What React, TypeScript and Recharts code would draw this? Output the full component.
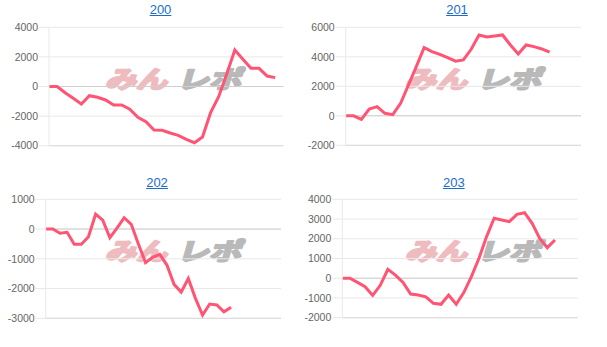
import { LineChart, Line, XAxis, YAxis, CartesianGrid, ReferenceLine } from 'recharts';

// machine numbers shown as panel titles
const titles = ['200', '201', '202', '203'];

// number of day slots on each x axis
const slots = [30, 31, 34, 32];

// cumulative medal difference per day
const diff200 = [0, 0, -420, -800, -1180, -620, -730, -910, -1250, -1250, -1540, -2080, -2380, -2940, -2960, -3140, -3300, -3570, -3800, -3410, -1770, -690, 850, 2470, 1840, 1230, 1230, 710, 600];
const diff201 = [0, 0, -240, 460, 620, 170, 80, 850, 2090, 3330, 4620, 4350, 4170, 3940, 3700, 3790, 4510, 5480, 5350, 5410, 5480, 4800, 4190, 4800, 4690, 4530, 4310];
const diff202 = [0, 0, -140, -110, -510, -510, -260, 500, 300, -290, 30, 380, 160, -500, -1130, -950, -850, -1210, -1860, -2120, -1660, -2330, -2890, -2520, -2550, -2780, -2630];
const diff203 = [0, 0, -210, -430, -870, -360, 450, 160, -210, -800, -850, -940, -1270, -1320, -850, -1320, -730, 80, 1010, 2110, 3040, 2950, 2870, 3240, 3320, 2780, 2020, 1550, 1940];

const ticks200 = [-4000, -2000, 0, 2000, 4000];
const ticks201 = [-2000, 0, 2000, 4000, 6000];
const ticks202 = [-3000, -2000, -1000, 0, 1000];
const ticks203 = [-2000, -1000, 0, 1000, 2000, 3000, 4000];

const series = [diff200, diff201, diff202, diff203];
const tickSets = [ticks200, ticks201, ticks202, ticks203];

const LINE = '#ff5473';
const GRID = '#e8e8e8';
const FONT = '"Liberation Sans", Arial, sans-serif';
const CJK = '"Noto Sans CJK JP", sans-serif';

// panel placement and plot box (left/right/top/bottom inside the panel)
const panels = [
  { x: 0, y: 0, w: 300, h: 170, left: 49, right: 283.3, top: 27.3, bottom: 145.7, tx: 160.5, ty: 2 },
  { x: 300, y: 0, w: 307, h: 170, left: 45.7, right: 281, top: 27.3, bottom: 145.3, tx: 157, ty: 2 },
  { x: 0, y: 170, w: 300, h: 177, left: 45.7, right: 281, top: 29.3, bottom: 148.3, tx: 157, ty: 4.5 },
  { x: 300, y: 170, w: 307, h: 177, left: 42.3, right: 277.7, top: 29.3, bottom: 147.7, tx: 153.8, ty: 4.5 },
];

const buildRows = (values: number[], count: number) =>
  Array.from({ length: count }, (_, i) => ({ day: i + 1, value: i < values.length ? values[i] : null }));

const Watermark = ({ top }: { top: number }) => (
  <svg width={170} height={40} style={{ position: 'absolute', left: 96, top: top, pointerEvents: 'none' }}>
    <g transform="translate(0,28) skewX(-16) translate(0,-28)">
      <text
        x={9}
        y={28}
        fontSize={24}
        fontWeight={700}
        fontFamily={CJK}
        fill="#eebbbf"
        stroke="#eebbbf"
        strokeWidth={2.2}
        strokeLinejoin="round"
        textLength={62}
        lengthAdjust="spacingAndGlyphs"
      >
        みん
      </text>
      <text
        x={81}
        y={28}
        fontSize={24}
        fontWeight={700}
        fontFamily={CJK}
        fill="#b9b9b9"
        stroke="#b9b9b9"
        strokeWidth={2.2}
        strokeLinejoin="round"
        textLength={64}
        lengthAdjust="spacingAndGlyphs"
      >
        レポ
      </text>
    </g>
  </svg>
);

const Panel = ({ idx }: { idx: number }) => {
  const p = panels[idx];
  const ticks = tickSets[idx];
  const rows = buildRows(series[idx], slots[idx]);
  const lo = ticks[0];
  const hi = ticks[ticks.length - 1];

  return (
    <div style={{ position: 'absolute', left: p.x, top: p.y, width: p.w, height: p.h }}>
      <a
        href="#"
        style={{
          position: 'absolute',
          left: p.tx,
          top: p.ty,
          transform: 'translateX(-50%)',
          fontFamily: FONT,
          fontSize: 13,
          lineHeight: '15px',
          color: '#1a6dcc',
        }}
      >
        {titles[idx]}
      </a>
      <Watermark top={p.top + 33} />
      <div style={{ position: 'absolute', left: 0, top: 0 }}>
        <LineChart
          width={p.w}
          height={p.h}
          data={rows}
          margin={{ top: p.top, bottom: p.h - p.bottom, left: 0, right: p.w - p.right }}
        >
          <CartesianGrid vertical={false} stroke={GRID} />
          <XAxis dataKey="day" hide padding={{ left: 0, right: 0 }} />
          <YAxis
            width={p.left}
            domain={[lo, hi]}
            ticks={ticks}
            interval={0}
            allowDataOverflow
            tickSize={10}
            tickMargin={1}
            tickLine={{ stroke: GRID }}
            axisLine={{ stroke: GRID }}
            tick={{ fill: '#666', fontSize: 10.5, fontFamily: FONT }}
          />
          <ReferenceLine y={0} stroke="#cfcfcf" />
          <ReferenceLine y={lo} stroke="#dadada" />
          <Line
            type="linear"
            dataKey="value"
            stroke={LINE}
            strokeWidth={3}
            dot={false}
            activeDot={false}
            isAnimationActive={false}
          />
        </LineChart>
      </div>
    </div>
  );
};

export default function App() {
  return (
    <div style={{ position: 'absolute', left: 0, top: 0, width: 607, height: 347, background: '#fff' }}>
      {[0, 1, 2, 3].map((i) => (
        <Panel key={i} idx={i} />
      ))}
    </div>
  );
}
